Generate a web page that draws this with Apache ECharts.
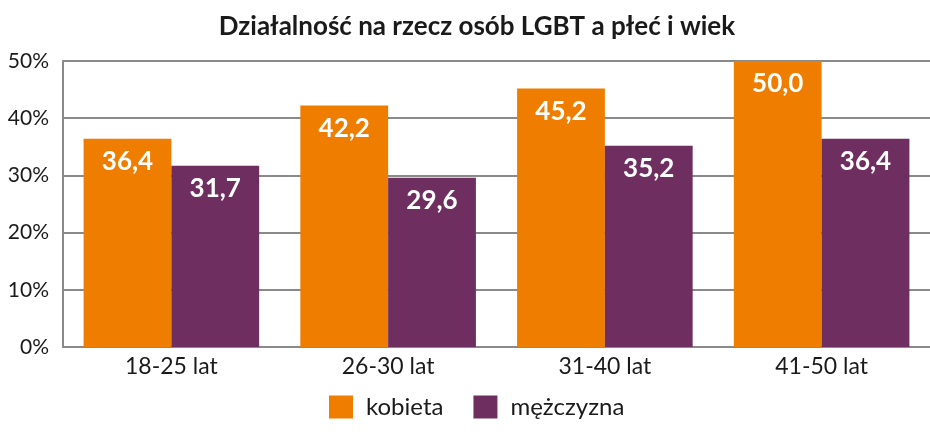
<!DOCTYPE html>
<html>
<head>
<meta charset="utf-8">
<script src="https://cdn.jsdelivr.net/npm/echarts@6/dist/echarts.min.js"></script>
<style>
  html, body { margin: 0; padding: 0; background: #fff; }
  #chart { width: 930px; height: 436px; }
</style>
</head>
<body>
<div id="chart"></div>
<script>
  // dane
  const categories = ['18-25 lat', '26-30 lat', '31-40 lat', '41-50 lat'];
  const kobieta = [36.4, 42.2, 45.2, 50.0];
  const mezczyzna = [31.7, 29.6, 35.2, 36.4];
  const seriesNames = ['kobieta', 'mężczyzna'];

  const chart = echarts.init(document.getElementById('chart'));

  const labelStyle = {
    show: true,
    position: 'insideTop',
    distance: 10,
    color: '#fff',
    fontFamily: 'Lato',
    fontWeight: 'bold',
    fontSize: 26,
    formatter: (p) => p.value.toFixed(1).replace('.', ',')
  };

  let option = {
    animation: false,
    title: {
      text: 'Działalność na rzecz osób LGBT a płeć i wiek',
      left: 472,
      textAlign: 'center',
      top: 9,
      textStyle: {
        fontFamily: 'Lato',
        fontWeight: 'bold',
        fontSize: 26,
        color: '#1a1a1a'
      }
    },
    legend: {
      bottom: 12,
      left: 324,
      itemWidth: 24,
      itemHeight: 23,
      itemGap: 30,
      icon: 'rect',
      textStyle: {
        fontFamily: 'Lato',
        fontSize: 24,
        color: '#1a1a1a',
        padding: [0, 0, 0, 8]
      }
    },
    grid: {
      left: 63,
      right: -4,
      top: 61,
      bottom: 89,
      containLabel: false
    },
    xAxis: {
      type: 'category',
      data: categories,
      axisLine: { show: true, lineStyle: { color: '#8a8a8a', width: 2 } },
      axisTick: { show: false },
      axisLabel: {
        fontFamily: 'Lato',
        fontSize: 23,
        color: '#1a1a1a',
        margin: 8
      }
    },
    yAxis: {
      type: 'value',
      min: 0,
      max: 50,
      interval: 10,
      axisLine: { show: true, lineStyle: { color: '#8a8a8a', width: 2 } },
      axisTick: { show: false },
      splitLine: { lineStyle: { color: '#8a8a8a', width: 2 } },
      axisLabel: {
        fontFamily: 'Lato',
        fontSize: 21,
        color: '#1a1a1a',
        margin: 14,
        formatter: '{value}%'
      }
    },
    series: [{
      name: seriesNames[0],
      type: 'bar',
      data: kobieta,
      barGap: '0%',
      barCategoryGap: '19%',
      itemStyle: { color: '#ef7d00' },
      label: labelStyle
    }, {
      name: seriesNames[1],
      type: 'bar',
      data: mezczyzna,
      itemStyle: { color: '#6e2f60' },
      label: labelStyle
    }]
  };
  chart.setOption(option);
</script>
</body>
</html>
